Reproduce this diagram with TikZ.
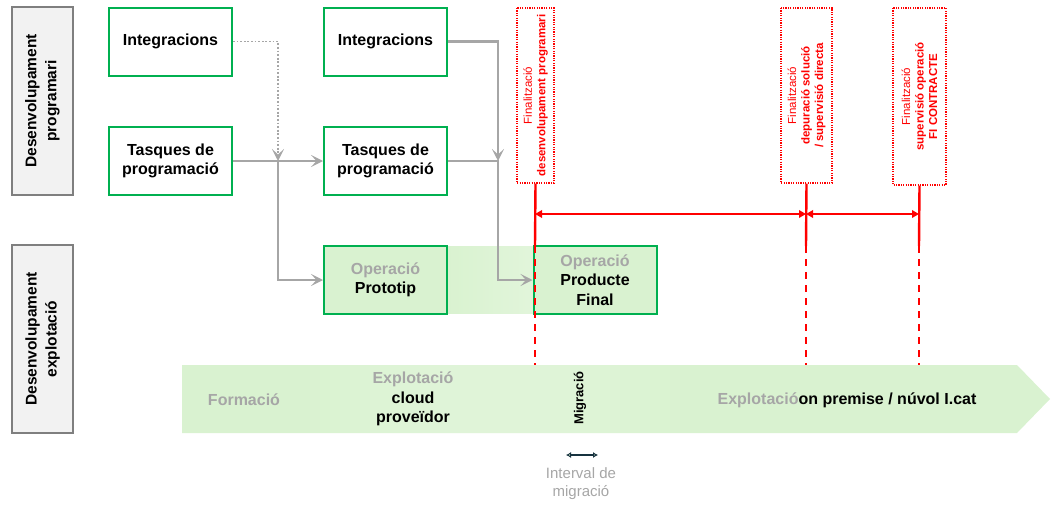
\documentclass[tikz,border=0pt]{standalone}
\usepackage{fontspec}
\setmainfont{Liberation Sans}
\usetikzlibrary{arrows.meta}
\definecolor{boxgreen}{HTML}{00B050}
\definecolor{softgreen}{HTML}{D9F2D0}
\definecolor{linegray}{HTML}{A6A6A6}
\definecolor{labelfill}{HTML}{F2F2F2}
\definecolor{labelframe}{HTML}{7F7F7F}
\definecolor{markred}{HTML}{FF0000}
\definecolor{darkteal}{HTML}{17323F}

\begin{document}
\begin{tikzpicture}[x=1pt,y=-1pt,
  font=\fontsize{16}{19.5}\selectfont\bfseries,
  rowlabel/.style={draw=labelframe, fill=labelfill, line width=1.8pt, rotate=90,
    minimum width=188pt, minimum height=61pt, align=center, inner sep=0pt,
    font=\fontsize{15.5}{20}\selectfont\bfseries},
  taskbox/.style={draw=boxgreen, fill=white, line width=2pt, minimum width=123pt,
    minimum height=68pt, align=center, inner sep=0pt},
  opbox/.style={taskbox, fill=softgreen},
  milestone/.style={draw=markred, dash pattern=on 1.2pt off 1.2pt, line width=1.1pt,
    fill=white, rotate=90, minimum width=175pt, align=center, inner sep=0pt,
    text=markred, font=\fontsize{11.5}{13.5}\selectfont},
  conn/.style={draw=linegray, line width=2.2pt,
    -{Stealth[length=12pt,width=12pt,inset=5.5pt]}},
  dotconn/.style={conn, line width=1.8pt, dash pattern=on 1.8pt off 1.8pt},
  redsolid/.style={draw=markred, line width=2.4pt},
  reddash/.style={draw=markred, line width=2.4pt, dash pattern=on 7pt off 6pt},
  redspan/.style={draw=markred, line width=2.4pt,
    {Triangle[length=7pt,width=7.5pt]}-{Triangle[length=7pt,width=7.5pt]}},
  intspan/.style={draw=darkteal, line width=1.6pt,
    {Latex[open,length=5pt,width=6pt,fill=softgreen]}-{Latex[open,length=5pt,width=6pt,fill=softgreen]}},
  greytext/.style={text=linegray},
]
\useasboundingbox (0,0) rectangle (1053,506);

% row labels
\node[rowlabel] (rowprog) at (42.5,101) {Desenvolupament\\programari};
\node[rowlabel] (rowexpl) at (42.5,339) {Desenvolupament\\explotació};

% strip joining the two operation boxes, lightening towards the right
\foreach \i in {0,...,42} {
  \pgfmathsetmacro{\shadeamt}{100-22*\i/42}
  \fill[softgreen!\shadeamt!white] (447+2*\i,246) rectangle (449.2+2*\i,314);
}

% timeline band, slightly lighter through its middle stretch
\fill[softgreen] (182,365) -- (1017,365) -- (1050,399) -- (1017,433) -- (182,433) -- cycle;
\foreach \i in {0,...,38} {
  \pgfmathsetmacro{\shadeamt}{100-18*sin(180*\i/38)}
  \fill[softgreen!\shadeamt!white] (300+10*\i,365) rectangle (310.3+10*\i,433);
}

% task boxes
\node[taskbox] (int1) at (170.5,41.5) {Integracions};
\node[taskbox] (tas1) at (170.5,161) {Tasques de\\programació};
\node[taskbox] (int2) at (385.5,41.5) {Integracions};
\node[taskbox] (tas2) at (385.5,161) {Tasques de\\programació};
\node[opbox] (proto) at (385.5,280) {{\color{linegray}Operació}\\Prototip};
\node[opbox] (prodf) at (595,280) {{\color{linegray}Operació}\\Producte\\Final};

% grey connectors
\coordinate (j1) at (278,161);
\coordinate (j2) at (498,161);
\draw[conn] (tas1.east) -- (tas2.west);
\draw[dotconn] (int1.east) -| (j1);
\draw[conn] (j1) |- (proto.west);
\draw[conn] (int2.east) -| (j2);
\draw[conn] (tas2.east) -| (j2) |- (prodf.west);

% milestones
\node[milestone, minimum height=37pt] (msA) at (535.5,95.5)
  {Finalització\\\textbf{desenvolupament programari}};
\node[milestone, minimum height=51pt] (msB) at (806.5,95.5)
  {Finalització\\\textbf{depuració solució}\\\textbf{/ supervisió directa}};
\node[milestone, minimum height=53pt, minimum width=177pt] (msC) at (919.5,96.5)
  {Finalització\\\textbf{supervisió operació}\\\textbf{FI CONTRACTE}};

\coordinate (aMid) at (535,246);  \coordinate (aEnd) at (535,365);
\coordinate (bMid) at (806,246);  \coordinate (bEnd) at (806,365);
\coordinate (cMid) at (919,246);  \coordinate (cEnd) at (919,365);
\draw[redsolid] (msA.west) -- (aMid);
\draw[redsolid] (msB.west) -- (bMid);
\draw[redsolid] (msC.west) -- (cMid);
\draw[reddash] (aMid) -- (aEnd);
\draw[reddash] (bMid) -- (bEnd);
\draw[reddash] (cMid) -- (cEnd);

\coordinate (spA) at (535,214);
\coordinate (spB) at (806,214);
\coordinate (spC) at (919,214);
\draw[redspan] (spA) -- (spB);
\draw[redspan] (spB) -- (spC);

% timeline phases
\node[greytext] (form) at (244,400) {Formació};
\node[align=center] (cloud) at (413,399) {{\color{linegray}Explotació}\\cloud\\proveïdor};
\node[rotate=90, font=\fontsize{13}{15}\selectfont\bfseries] (migr) at (580,398) {Migració};
\node (onprem) at (847,400) {{\color{linegray}Explotació}on premise / núvol I.cat};

% migration interval legend
\coordinate (iL) at (566,455);
\coordinate (iR) at (598,455);
\draw[intspan] (iL) -- (iR);
\node[align=center, text=linegray, font=\fontsize{15}{18}\selectfont] (intlab) at (581,484)
  {Interval de\\migració};
\end{tikzpicture}
\end{document}
